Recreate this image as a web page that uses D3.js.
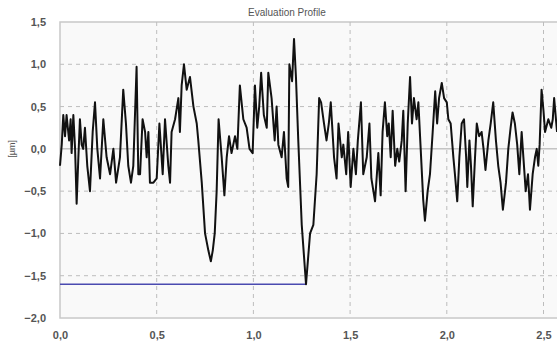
<!DOCTYPE html>
<html>
<head>
<meta charset="utf-8">
<script src="https://cdn.jsdelivr.net/npm/d3@7"></script>
<style>
  body { margin: 0; background: #fff; }
  svg { display: block; font-family: Arial, "Liberation Sans", sans-serif; }
</style>
</head>
<body>
<div id="chart"></div>
<script>
// profile readings (x in mm, z in µm)
const profileX = [
  0.000, 0.009, 0.017, 0.026, 0.034, 0.047, 0.055, 0.060, 0.069, 0.078, 0.086, 0.095, 0.103, 0.112, 0.120,
  0.129, 0.141, 0.155, 0.169, 0.181, 0.193, 0.207, 0.224, 0.241, 0.259, 0.276, 0.290, 0.310, 0.327, 0.341,
  0.353, 0.367, 0.379, 0.396, 0.405, 0.414, 0.427, 0.440, 0.448, 0.457, 0.465, 0.483, 0.500, 0.514, 0.531,
  0.543, 0.560, 0.569, 0.577, 0.595, 0.612, 0.620, 0.629, 0.641, 0.655, 0.672, 0.690, 0.707, 0.715, 0.733,
  0.750, 0.767, 0.780, 0.790, 0.800, 0.810, 0.820, 0.836, 0.850, 0.862, 0.874, 0.887, 0.905, 0.917, 0.930,
  0.948, 0.965, 0.980, 0.996, 1.008, 1.020, 1.030, 1.040, 1.054, 1.069, 1.077, 1.094, 1.110, 1.120, 1.129,
  1.146, 1.158, 1.172, 1.180, 1.186, 1.200, 1.210, 1.220, 1.232, 1.250, 1.272, 1.293, 1.310, 1.327, 1.340,
  1.350, 1.365, 1.378, 1.390, 1.400, 1.417, 1.430, 1.440, 1.457, 1.465, 1.480, 1.490, 1.503, 1.517, 1.530,
  1.540, 1.556, 1.568, 1.586, 1.600, 1.610, 1.629, 1.646, 1.658, 1.668, 1.680, 1.692, 1.700, 1.710, 1.720,
  1.733, 1.744, 1.754, 1.767, 1.775, 1.787, 1.798, 1.810, 1.820, 1.830, 1.844, 1.853, 1.865, 1.878, 1.887,
  1.901, 1.913, 1.927, 1.940, 1.950, 1.960, 1.974, 1.986, 2.000, 2.008, 2.020, 2.034, 2.042, 2.054, 2.065,
  2.077, 2.089, 2.100, 2.106, 2.117, 2.125, 2.134, 2.146, 2.155, 2.167, 2.180, 2.190, 2.200, 2.215, 2.227,
  2.240, 2.254, 2.266, 2.278, 2.290, 2.306, 2.318, 2.330, 2.340, 2.352, 2.364, 2.375, 2.387, 2.396, 2.408,
  2.420, 2.430, 2.444, 2.456, 2.465, 2.473, 2.480, 2.490, 2.500, 2.508, 2.525, 2.540, 2.548, 2.555, 2.570
];
const profileZ = [
  -0.20, 0.05, 0.40, 0.15, 0.40, 0.10, 0.35, -0.05, 0.40, 0.00, -0.65, -0.10, 0.35, 0.05, 0.00,
  0.25, -0.20, -0.50, 0.20, 0.55, 0.00, -0.35, 0.35, -0.10, -0.30, 0.00, -0.40, -0.10, 0.70, 0.30,
  -0.20, -0.40, -0.20, 0.97, -0.30, -0.30, 0.35, 0.20, -0.10, 0.20, -0.40, -0.40, -0.35, 0.30, -0.30,
  0.35, -0.20, -0.40, 0.20, 0.35, 0.60, 0.20, 0.75, 1.00, 0.70, 0.85, 0.50, 0.30, 0.10, -0.40,
  -1.00, -1.20, -1.33, -1.20, -1.00, -0.50, 0.35, -0.10, -0.55, -0.10, 0.15, -0.05, 0.15, 0.00, 0.75,
  0.35, 0.25, 0.00, -0.05, 0.75, 0.25, 0.50, 0.90, 0.40, 0.25, 0.90, 0.60, 0.10, 0.50, 0.05,
  -0.10, 0.20, -0.35, -0.45, 1.00, 0.80, 1.30, 0.85, 0.10, -0.90, -1.60, -1.00, -0.90, -0.30, 0.60,
  0.55, 0.30, 0.10, 0.30, 0.55, -0.10, -0.35, 0.30, -0.10, 0.05, -0.30, 0.20, -0.45, 0.00, -0.30,
  0.10, 0.55, -0.30, -0.10, 0.30, -0.35, -0.62, -0.05, -0.55, 0.20, 0.55, 0.15, 0.30, -0.10, 0.45,
  -0.20, 0.00, -0.15, 0.10, 0.45, -0.50, 0.30, 0.85, 0.30, 0.60, 0.35, 0.55, 0.00, -0.60, -0.85,
  -0.50, -0.30, 0.20, 0.68, 0.30, 0.60, 0.78, 0.60, 0.55, 0.35, 0.30, -0.10, -0.30, -0.62, -0.10,
  0.30, 0.35, -0.10, -0.45, 0.10, -0.20, -0.68, -0.10, 0.30, 0.15, 0.20, 0.00, -0.25, 0.10, 0.30,
  0.55, 0.10, -0.20, -0.40, -0.72, -0.40, 0.00, 0.25, 0.43, 0.30, 0.05, -0.30, 0.20, -0.10, -0.50,
  -0.30, -0.72, -0.30, -0.10, 0.00, -0.20, 0.05, 0.70, 0.45, 0.20, 0.35, 0.25, 0.35, 0.60, 0.20
];
// Rz reference line (lowest valley)
const valleyX = [0.0, 1.272];
const valleyZ = [-1.6, -1.6];

const xTicks = [0, 0.5, 1.0, 1.5, 2.0, 2.5];
const yTicks = [-2.0, -1.5, -1.0, -0.5, 0.0, 0.5, 1.0, 1.5];
const title = 'Evaluation Profile';
const yLabel = '[µm]';

const W = 557, H = 351;
const margin = { top: 22, left: 60, bottom: 33 };
const plotH = H - margin.top - margin.bottom;

const svg = d3.select('#chart').append('svg')
  .attr('width', W).attr('height', H);

const x = d3.scaleLinear().domain([0, 2.6]).range([margin.left, margin.left + 2.6 * 193.4]);
const y = d3.scaleLinear().domain([-2, 1.5]).range([margin.top + plotH, margin.top]);

// plot background
svg.append('rect')
  .attr('x', x(0)).attr('y', y(1.5))
  .attr('width', x(2.6) - x(0)).attr('height', y(-2) - y(1.5))
  .attr('fill', '#f9f9f9')
  .attr('stroke', '#c8c8c8')
  .attr('stroke-width', 1.5);

// grid
svg.append('g')
  .selectAll('line')
  .data(yTicks.filter(d => d > -2 && d < 1.5 && d !== 0))
  .join('line')
  .attr('x1', x(0)).attr('x2', x(2.6))
  .attr('y1', d => y(d)).attr('y2', d => y(d))
  .attr('stroke', '#bdbdbd')
  .attr('stroke-dasharray', '4,4');

svg.append('g')
  .selectAll('line')
  .data(xTicks.filter(d => d > 0))
  .join('line')
  .attr('x1', d => x(d)).attr('x2', d => x(d))
  .attr('y1', y(1.5)).attr('y2', y(-2))
  .attr('stroke', '#bdbdbd')
  .attr('stroke-dasharray', '4,4');

// zero line
svg.append('line')
  .attr('x1', x(0)).attr('x2', x(2.6))
  .attr('y1', y(0)).attr('y2', y(0))
  .attr('stroke', '#a8a8a8');

const fmt = d => d3.format('.1f')(d).replace('.', ',');

// axes
const yAxis = svg.append('g')
  .attr('transform', `translate(${margin.left},0)`)
  .call(d3.axisLeft(y).tickValues(yTicks).tickFormat(fmt).tickSize(0).tickPadding(14));
yAxis.select('.domain').remove();
yAxis.selectAll('text')
  .attr('font-size', 11).attr('font-weight', 'bold').attr('fill', '#555')
  .attr('font-family', 'Arial, "Liberation Sans", sans-serif');

const xAxis = svg.append('g')
  .attr('transform', `translate(0,${y(-2)})`)
  .call(d3.axisBottom(x).tickValues(xTicks).tickFormat(fmt).tickSize(0).tickPadding(13));
xAxis.select('.domain').remove();
xAxis.selectAll('text')
  .attr('font-size', 11).attr('font-weight', 'bold').attr('fill', '#555')
  .attr('font-family', 'Arial, "Liberation Sans", sans-serif');

// title and y label
svg.append('text')
  .attr('x', 287).attr('y', 16)
  .attr('text-anchor', 'middle')
  .attr('font-size', 10).attr('fill', '#555')
  .text(title);

svg.append('text')
  .attr('transform', `translate(15,${y(0)}) rotate(-90)`)
  .attr('text-anchor', 'middle')
  .attr('font-size', 9).attr('fill', '#555')
  .text(yLabel);

// valley line
svg.append('path')
  .datum(valleyX.map((d, i) => [d, valleyZ[i]]))
  .attr('fill', 'none')
  .attr('stroke', '#4a4ab0')
  .attr('stroke-width', 1.5)
  .attr('d', d3.line().x(d => x(d[0])).y(d => y(d[1])));

// profile
svg.append('path')
  .datum(profileX.map((d, i) => [d, profileZ[i]]))
  .attr('fill', 'none')
  .attr('stroke', '#111')
  .attr('stroke-width', 2)
  .attr('stroke-linejoin', 'round')
  .attr('d', d3.line().x(d => x(d[0])).y(d => y(d[1])));
</script>
</body>
</html>
